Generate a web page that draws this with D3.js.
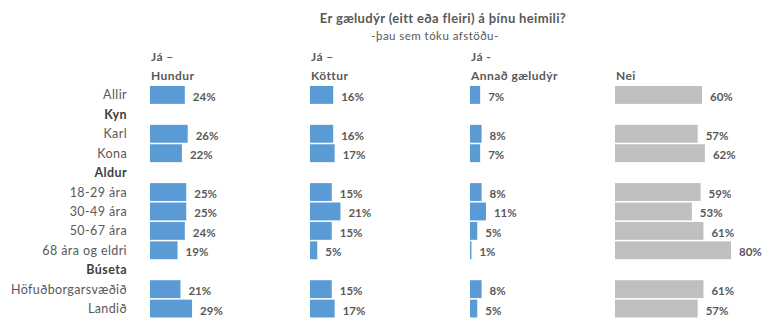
<!DOCTYPE html>
<html>
<head>
<meta charset="utf-8">
<script src="https://cdn.jsdelivr.net/npm/d3@7"></script>
<style>
  html, body { margin: 0; padding: 0; background: #fff; }
  svg { display: block; font-family: Lato, "Open Sans", sans-serif; }
</style>
</head>
<body>
<svg id="chart" width="783" height="333"></svg>
<script>
// Rows of the table: group headers have no values
const rows = ["Allir", "Kyn", "Karl", "Kona", "Aldur", "18-29 ára", "30-49 ára", "50-67 ára", "68 ára og eldri", "Búseta", "Höfuðborgarsvæðið", "Landið"];
const groupHeaders = ["Kyn", "Aldur", "Búseta"];

// Answer columns (two-line headers)
const columns = [["Já –", "Hundur"], ["Já –", "Köttur"], ["Já -", "Annað gæludýr"], ["", "Nei"]];

// Percentages per column, in row order (null for group headers)
const hundur = [24, null, 26, 22, null, 25, 25, 24, 19, null, 21, 29];
const kottur = [16, null, 16, 17, null, 15, 21, 15, 5, null, 15, 17];
const annad  = [7, null, 8, 7, null, 8, 11, 5, 1, null, 8, 5];
const nei    = [60, null, 57, 62, null, 59, 53, 61, 80, null, 61, 57];

const series = [hundur, kottur, annad, nei];
const colors = ["#5B9BD5", "#5B9BD5", "#5B9BD5", "#BFBFBF"];

const title = "Er gæludýr (eitt eða fleiri) á þínu heimili?";
const subtitle = "-þau sem tóku afstöðu-";

const svg = d3.select("#chart");
const textColor = "#595959";

// Scales
const y = d3.scaleBand().domain(rows).range([86, 317.5]).paddingInner(0.08);
const colX = d3.scaleOrdinal().domain(d3.range(columns.length)).range([150, 310, 470, 615]);
const w = d3.scaleLinear().domain([0, 100]).range([0, 145]);

// Title
svg.append("text")
  .attr("x", 443).attr("y", 23)
  .attr("text-anchor", "middle")
  .attr("font-size", 13).attr("font-weight", "bold")
  .attr("letter-spacing", 0.35)
  .attr("fill", textColor)
  .text(title);
svg.append("text")
  .attr("x", 435).attr("y", 40)
  .attr("text-anchor", "middle")
  .attr("font-size", 11.5)
  .attr("letter-spacing", 0.45)
  .attr("fill", textColor)
  .text(subtitle);

// Column headers
columns.forEach((lines, i) => {
  const t = svg.append("text")
    .attr("font-size", 12).attr("font-weight", "bold")
    .attr("letter-spacing", 0.45)
    .attr("fill", textColor);
  t.append("tspan").attr("x", colX(i) + 1).attr("y", 61).text(lines[0]);
  t.append("tspan").attr("x", colX(i) + 1).attr("y", 80).text(lines[1]);
});

// Row labels
svg.append("g").selectAll("text")
  .data(rows)
  .join("text")
  .attr("x", 127)
  .attr("y", d => y(d) + y.bandwidth() / 2 + 4.5)
  .attr("text-anchor", "end")
  .attr("font-size", 12.5)
  .attr("letter-spacing", 0.4)
  .attr("font-weight", d => groupHeaders.includes(d) ? "bold" : "normal")
  .attr("fill", d => groupHeaders.includes(d) ? "#404040" : textColor)
  .text(d => d);

// Bars and value labels per column
series.forEach((vals, ci) => {
  const data = rows.map((r, i) => ({ row: r, v: vals[i] })).filter(d => d.v !== null);
  const g = svg.append("g");
  g.selectAll("rect")
    .data(data)
    .join("rect")
    .attr("x", colX(ci))
    .attr("y", d => y(d.row))
    .attr("width", d => w(d.v))
    .attr("height", y.bandwidth())
    .attr("fill", colors[ci]);
  g.selectAll("text")
    .data(data)
    .join("text")
    .attr("x", d => colX(ci) + w(d.v) + 8)
    .attr("y", d => y(d.row) + y.bandwidth() / 2 + 6)
    .attr("font-size", 11.5).attr("font-weight", "bold")
    .attr("fill", textColor)
    .text(d => d.v + "%");
});
</script>
</body>
</html>
